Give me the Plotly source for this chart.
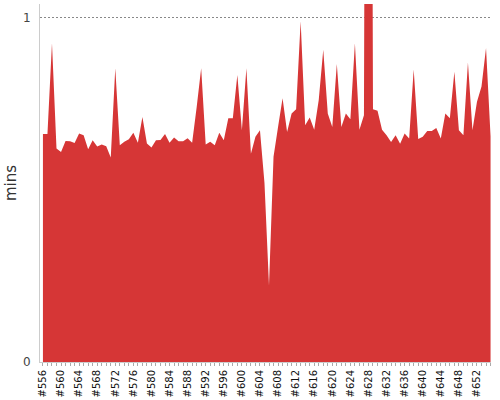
import plotly.graph_objects as go

builds = list(range(556, 656))
mins = [
    0.662, 0.662, 0.926, 0.620, 0.610, 0.642, 0.641, 0.636, 0.664, 0.659,
    0.618, 0.644, 0.626, 0.632, 0.627, 0.594, 0.853, 0.630, 0.640, 0.647,
    0.666, 0.637, 0.712, 0.635, 0.623, 0.644, 0.645, 0.662, 0.637, 0.652,
    0.641, 0.641, 0.650, 0.637, 0.740, 0.853, 0.632, 0.640, 0.630, 0.666,
    0.644, 0.708, 0.708, 0.834, 0.673, 0.853, 0.605, 0.654, 0.673, 0.520,
    0.222, 0.596, 0.683, 0.766, 0.668, 0.722, 0.734, 0.990, 0.688, 0.710,
    0.675, 0.761, 0.907, 0.722, 0.683, 0.866, 0.683, 0.722, 0.705, 0.926,
    0.675, 0.717, 5.000, 0.734, 0.730, 0.675, 0.659, 0.639, 0.659, 0.634,
    0.664, 0.649, 0.850, 0.648, 0.654, 0.671, 0.671, 0.680, 0.649, 0.722,
    0.708, 0.843, 0.673, 0.659, 0.870, 0.673, 0.756, 0.800, 0.912, 0.656,
]
tick_builds = list(range(556, 653, 4))
tick_labels = ["#%d" % b for b in tick_builds]

fig = go.Figure()
fig.add_trace(go.Scatter(
    x=builds, y=mins, mode="lines", fill="tozeroy",
    line=dict(width=0, color="rgb(214,54,54)"),
    fillcolor="rgb(214,54,54)", hoverinfo="skip", showlegend=False,
))

fig.update_layout(
    width=500, height=400,
    margin=dict(l=40, r=9, t=4, b=38),
    paper_bgcolor="white", plot_bgcolor="white",
    font=dict(family="DejaVu Sans", color="#333"),
    xaxis=dict(
        range=[555.35, 655.1], tickmode="array", tickvals=tick_builds,
        ticktext=tick_labels, tickangle=-90, tickfont=dict(size=10, color="#111"),
        showgrid=False, zeroline=False, showline=True, linecolor="#ccc", linewidth=1,
        ticks="outside", ticklen=3, tickcolor="#aaa", automargin=False,
        minor=dict(dtick=1, tick0=556, ticks="outside", ticklen=3, tickcolor="#aaa", showgrid=False),
    ),
    yaxis=dict(
        range=[0, 1.04], tickmode="array", tickvals=[0, 1], ticktext=["0", "1"],
        tickfont=dict(size=12, color="#444"), ticks="", ticklabelstandoff=6,
        showgrid=True, gridcolor="#888", griddash="2px,2px", gridwidth=1,
        zeroline=False, showline=True, linecolor="#ccc", linewidth=1, automargin=False,
        title=dict(text="mins", font=dict(size=15, color="#333"), standoff=2),
    ),
)

fig.write_html("out.html", config={"displayModeBar": False},
               post_script="document.body.style.margin='0';document.body.style.padding='0';")
